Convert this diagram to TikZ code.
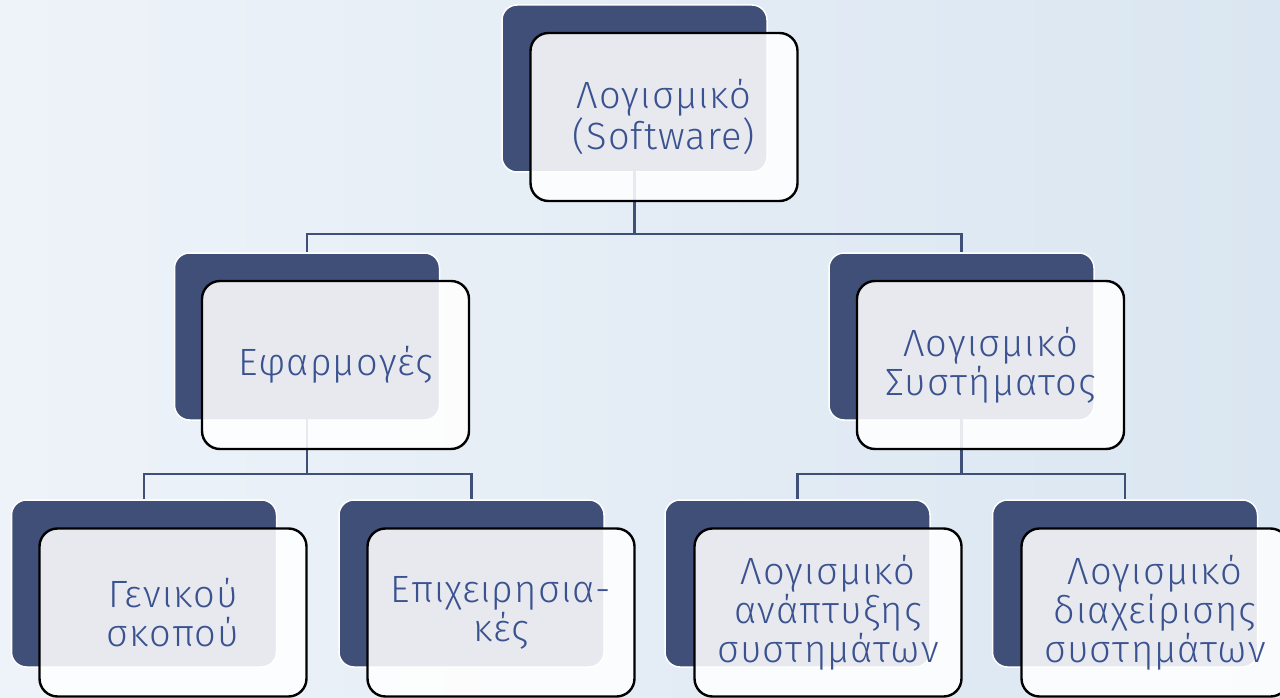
\documentclass[tikz,border=0pt]{standalone}
\usepackage{fontspec}
\setmainfont{Fira Sans Light}[LetterSpace=3]
\begin{document}
\begin{tikzpicture}[x=1pt,y=-1pt,
  darkbox/.style={draw=white,line width=1.5pt,fill=navyfill,rounded corners=15pt,
    minimum width=265pt,minimum height=167pt,inner sep=0pt},
  frontbox/.style={draw=black,line width=2.4pt,fill=white,fill opacity=0.88,text opacity=1,
    rounded corners=18pt,minimum width=267pt,minimum height=168pt,inner sep=0pt,
    align=center,text=textblue,font=\fontsize{38pt}{39pt}\selectfont},
  conn/.style={draw=navyfill,line width=2.5pt}]
\definecolor{navyfill}{HTML}{404F78}
\definecolor{textblue}{HTML}{3A5290}
\definecolor{bgl}{HTML}{EEF3F9}
\definecolor{bgr}{HTML}{DAE6F1}
\useasboundingbox (0,0) rectangle (1280,698);
\shade[left color=bgl,right color=bgr] (0,0) rectangle (1280,698);
% dark back boxes
\node[darkbox] (d0) at (634.5,88.5) {};
\node[darkbox] (d1) at (307,336.5) {};
\node[darkbox] (d2) at (961.5,336.5) {};
\node[darkbox] (d3) at (144,583.5) {};
\node[darkbox] (d4) at (471.5,583.5) {};
\node[darkbox] (d5) at (797.5,583.5) {};
\node[darkbox] (d6) at (1125,583.5) {};
% connectors (behind front boxes)
\coordinate (y1) at (0,234);
\coordinate (y2) at (0,474);
\draw[conn] (d0.center) -- (d0.center |- y1) -| (d1.north);
\draw[conn] (d0.center |- y1) -| (d2.north);
\draw[conn] (d1.center) -- (d1.center |- y2) -| (d3.north);
\draw[conn] (d1.center |- y2) -| (d4.north);
\draw[conn] (d2.center) -- (d2.center |- y2) -| (d5.north);
\draw[conn] (d2.center |- y2) -| (d6.north);
% front boxes
\node[frontbox] (f0) at (664,117) {Λογισμικό\\(Software)};
\node[frontbox] (f1) at (335.5,365) {Εφαρμογές};
\node[frontbox] (f2) at (990.5,365) {Λογισμικό\\Συστήματος};
\node[frontbox] (f3) at (173,612.5) {Γενικού\\σκοπού};
\node[frontbox] (f4) at (501,612.5) {Επιχειρησια-\\κές};
\node[frontbox] (f5) at (828,612.5) {Λογισμικό\\ανάπτυξης\\συστημάτων};
\node[frontbox] (f6) at (1155,612.5) {Λογισμικό\\διαχείρισης\\συστημάτων};
\end{tikzpicture}
\end{document}
